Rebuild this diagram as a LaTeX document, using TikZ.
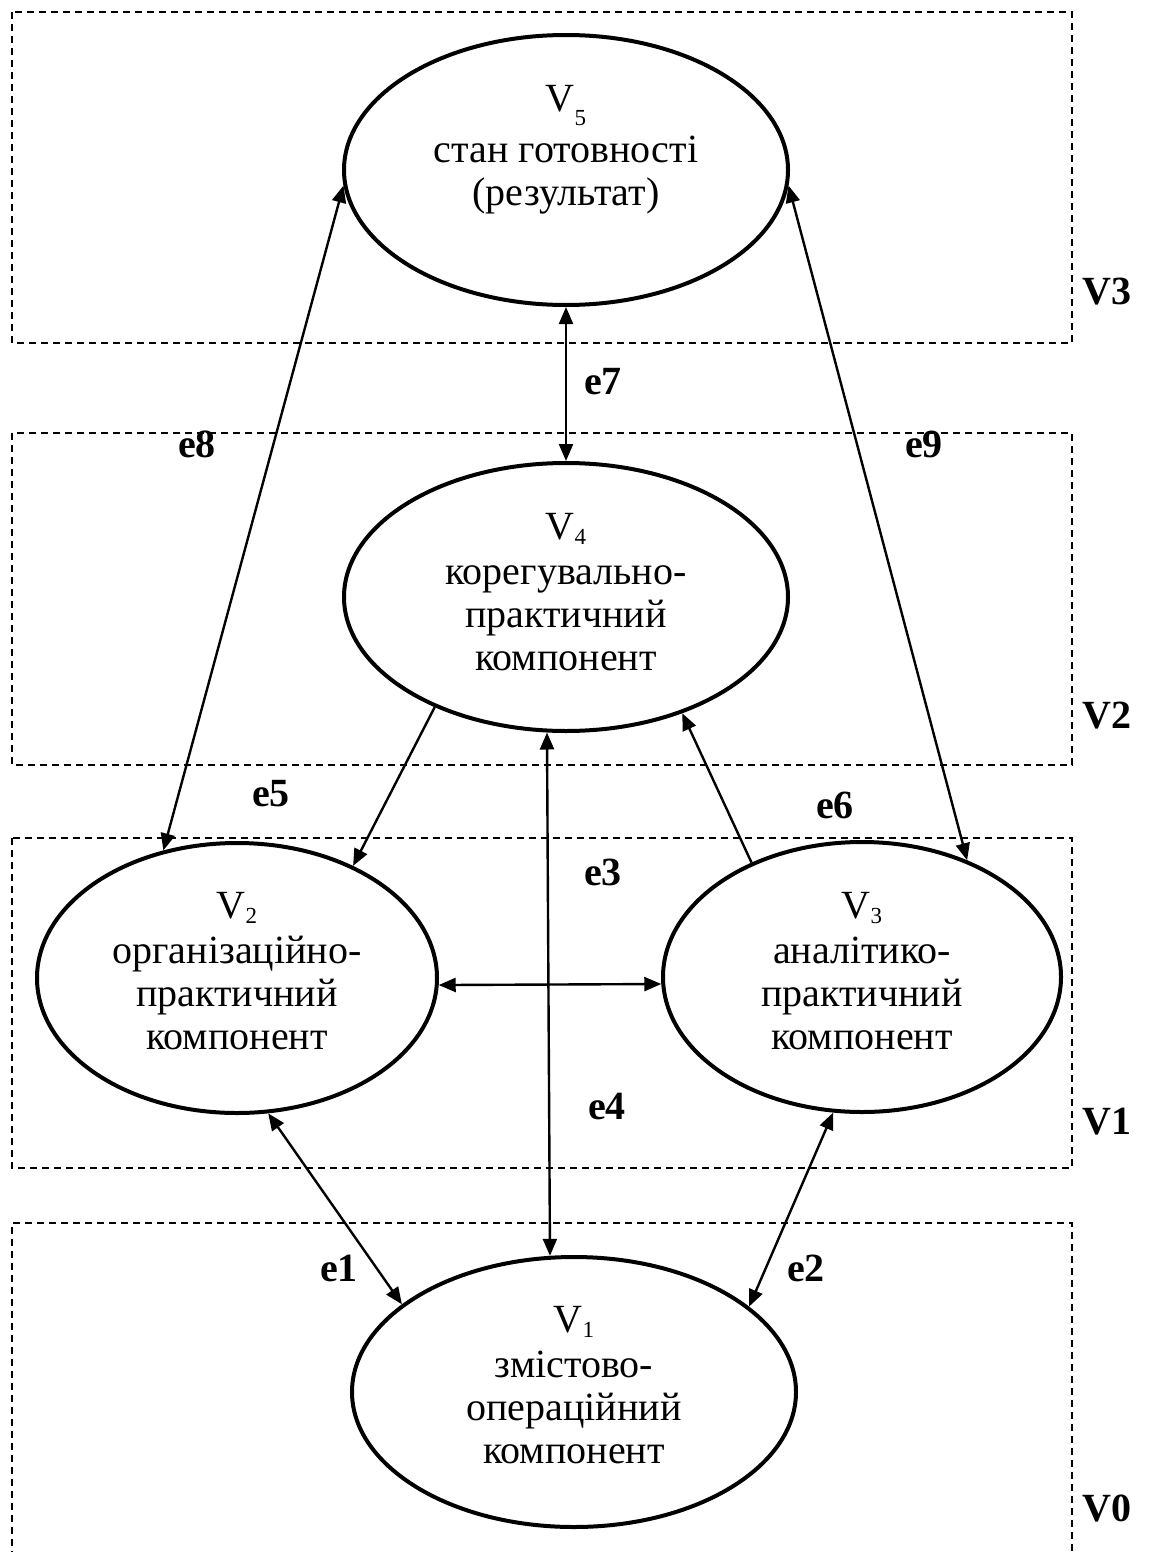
\documentclass[tikz,border=0pt]{standalone}
\usepackage{fontspec}
\setmainfont{Liberation Serif}
\usetikzlibrary{shapes.geometric,arrows.meta}
\newcommand{\vsub}[2][-5pt]{\raisebox{#1}{\fontsize{23}{23}\selectfont #2}}
\tikzset{
  ell/.style={ellipse, draw, line width=4pt, inner sep=0pt},
  etxt/.style={align=center, font=\fontsize{40}{43}\selectfont, inner sep=0pt},
  elab/.style={font=\bfseries\fontsize{40}{40}\selectfont, inner sep=0pt},
  vlab/.style={font=\bfseries\fontsize{40}{40}\selectfont, inner sep=0pt},
  lvl/.style={line width=1.5pt, dash pattern=on 7pt off 5pt},
  con/.style={line width=2.4pt},
  tip/.tip={Triangle[length=17pt,width=14pt]},
  both/.style={con, tip-tip},
  one/.style={con, -tip},
}
\begin{document}
\begin{tikzpicture}[x=1pt,y=-1pt]
\useasboundingbox (0,0) rectangle (1149,1552);
% level boxes
\draw[lvl] (12,12) rectangle (1072,343);
\draw[lvl] (12,433) rectangle (1072,765);
\draw[lvl] (12,838) rectangle (1072,1168);
\draw[lvl] (12,1570) -- (12,1223) -- (1072,1223) -- (1072,1570);
\node[vlab] (L3) at (1107,292) {V3};
\node[vlab] (L2) at (1107,716) {V2};
\node[vlab] (L1) at (1107,1122) {V1};
\node[vlab] (L0) at (1107,1508) {V0};
% ellipses
\node[ell, minimum width=444pt, minimum height=270pt] (V5) at (566,170) {};
\node[ell, minimum width=444pt, minimum height=268pt] (V4) at (566,597) {};
\node[ell, minimum width=400pt, minimum height=270pt] (V2) at (237,978) {};
\node[ell, minimum width=398pt, minimum height=270pt] (V3) at (862,977) {};
\node[ell, minimum width=444pt, minimum height=270pt] (V1) at (574,1392) {};
% texts
\node[etxt] (T5) at (566,150) {V\vsub[-14pt]{5}\\[8pt]стан готовності\\(результат)};
\node[etxt] (T4) at (566,592) {V\vsub{4}\\[2pt]корегувально-\\практичний\\компонент};
\node[etxt] (T2) at (237,971) {V\vsub{2}\\[2pt]організаційно-\\практичний\\компонент};
\node[etxt] (T3) at (862,971) {V\vsub{3}\\[2pt]аналітико-\\практичний\\компонент};
\node[etxt] (T1) at (574,1385) {V\vsub{1}\\[2pt]змістово-\\операційний\\компонент};
% connectors
\draw[both] (V5.270) -- (V4.90);
\draw[both] (V5.184.3) -- (V2.120.6);
\draw[both] (V5.356.6) -- (V3.48.1);
\draw[one] (V4.220.4) -- (V2.44.6);
\draw[one] (V3.134.2) -- (V4.315.5);
\draw[both] (V4.262) -- (V1.100.6);
\draw[both] (V2.-2) -- (V3.182);
\draw[both] (V2.-77) -- (V1.153.8);
\draw[both] (V3.258) -- (V1.26.6);
% edge labels
\node[elab] (e8) at (197,444) {e8};
\node[elab] (e9) at (924,444) {e9};
\node[elab] (e7) at (603,382) {e7};
\node[elab] (e5) at (271,794) {e5};
\node[elab] (e6) at (835,805) {e6};
\node[elab] (e3) at (603,872) {e3};
\node[elab] (e4) at (607,1107) {e4};
\node[elab] (e1) at (339,1268) {e1};
\node[elab] (e2) at (806,1268) {e2};
\end{tikzpicture}
\end{document}
